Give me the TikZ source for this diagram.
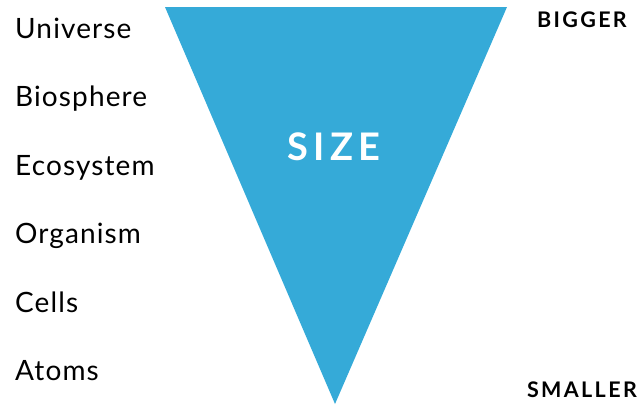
\documentclass[tikz,border=0pt]{standalone}
\usepackage{fontspec}
\setmainfont{Lato}
\usepackage{tikz}
\definecolor{sizeblue}{RGB}{53,170,216}

\begin{document}
\begin{tikzpicture}[x=1pt,y=-1pt,
  level/.style={anchor=base west,inner sep=0pt,font=\fontsize{28}{28}\selectfont\addfontfeature{LetterSpace=4}},
  scale word/.style={anchor=base east,inner sep=0pt,font=\fontsize{21.5}{21.5}\bfseries\addfontfeature{LetterSpace=11}}]
\useasboundingbox (0,0) rectangle (641,405);
\fill[sizeblue] (165,7) coordinate (tl) -- (507,7) coordinate (tr) -- (335,404) coordinate (tip) -- cycle;
\node[text=white,inner sep=0pt,font=\fontsize{38}{38}\bfseries\addfontfeature{LetterSpace=14}] (size) at (334,147) {SIZE};
\node[level] (universe) at (15,38) {Universe};
\node[level] (biosphere) at (15,106) {Biosphere};
\node[level] (ecosystem) at (15,175) {Ecosystem};
\node[level] (organism) at (15,243) {Organism};
\node[level] (cells) at (15,312) {Cells};
\node[level] (atoms) at (15,380) {Atoms};
\node[scale word] (bigger) at (627,27) {BIGGER};
\node[scale word] (smaller) at (637,397) {SMALLER};
\end{tikzpicture}
\end{document}
